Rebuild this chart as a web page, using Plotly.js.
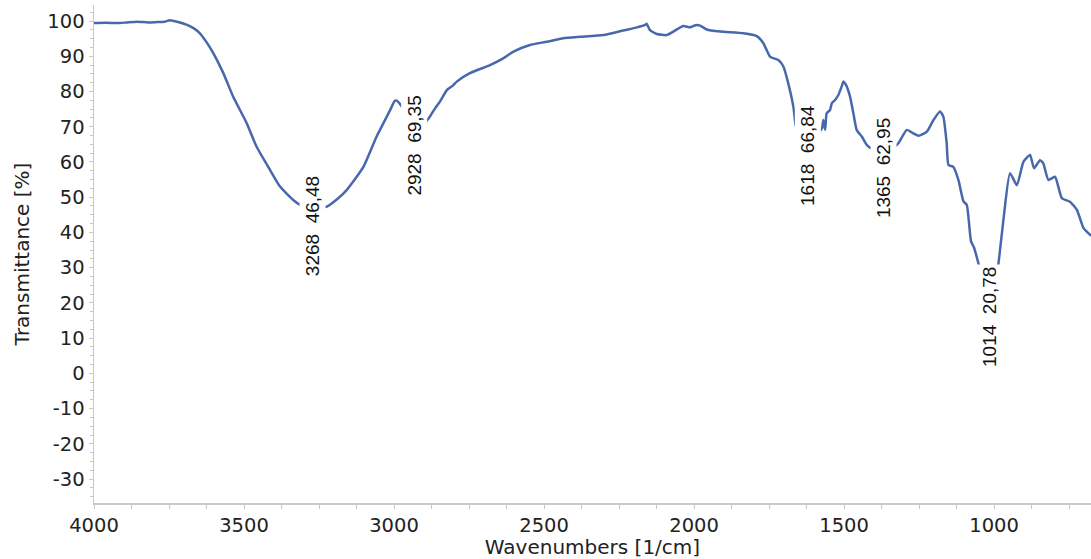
<!DOCTYPE html>
<html>
<head>
<meta charset="utf-8">
<script src="https://cdn.plot.ly/plotly-3.0.1.min.js"></script>
<style>html,body{margin:0;padding:0;background:#fff;}#chart{width:1091px;height:559px;}</style>
</head>
<body>
<div id="chart"></div>
<script>
// Spectrum (wavenumber in 1/cm, transmittance in %)
const wavenumbers = [4000, 3960, 3920, 3890, 3857, 3820, 3790, 3765, 3747, 3720, 3690, 3667, 3647, 3625, 3602, 3569, 3536, 3491, 3458, 3413, 3380, 3336, 3313, 3290, 3268, 3245, 3224, 3190, 3158, 3102, 3058, 3013, 2998, 2991, 2974, 2950, 2928, 2905, 2886, 2865, 2847, 2824, 2805, 2791, 2747, 2680, 2636, 2602, 2547, 2491, 2436, 2380, 2302, 2236, 2190, 2163, 2158, 2147, 2124, 2091, 2069, 2036, 2013, 1995, 1980, 1958, 1913, 1836, 1791, 1769, 1747, 1719, 1702, 1686, 1669, 1660, 1640, 1618, 1595, 1574, 1569, 1563, 1558, 1547, 1541, 1530, 1519, 1508, 1502, 1496, 1491, 1480, 1469, 1458, 1441, 1424, 1411, 1390, 1365, 1340, 1319, 1291, 1269, 1252, 1224, 1202, 1180, 1169, 1158, 1152, 1136, 1119, 1102, 1091, 1077, 1067, 1050, 1030, 1014, 1000, 986, 969, 947, 924, 902, 880, 867, 847, 836, 819, 797, 774, 747, 724, 702, 680, 677];
const transmittance = [99.4, 99.5, 99.4, 99.6, 99.8, 99.6, 99.7, 99.8, 100.2, 99.7, 98.9, 97.9, 96.5, 94.0, 90.8, 85.2, 78.5, 71.0, 64.3, 57.7, 53.0, 49.2, 47.8, 47.0, 46.48, 46.8, 47.3, 49.4, 52.0, 58.6, 67.2, 74.7, 77.3, 77.4, 75.7, 72.0, 69.35, 70.6, 72.2, 75.0, 77.1, 80.4, 81.6, 82.8, 85.2, 87.5, 89.4, 91.3, 93.2, 94.1, 95.1, 95.5, 96.0, 97.3, 98.2, 98.9, 99.2, 97.4, 96.3, 96.0, 97.0, 98.6, 98.2, 98.8, 98.7, 97.6, 97.0, 96.5, 95.7, 93.7, 89.9, 88.9, 87.0, 82.3, 75.7, 70.0, 67.5, 66.84, 67.8, 69.5, 71.9, 69.1, 73.8, 74.7, 76.6, 77.6, 79.0, 81.4, 82.8, 82.2, 81.4, 78.5, 73.8, 69.1, 67.2, 64.8, 63.9, 63.3, 62.95, 63.8, 65.3, 69.1, 68.1, 67.4, 68.6, 71.9, 74.3, 72.8, 65.3, 59.1, 58.6, 54.9, 48.8, 47.8, 37.5, 35.7, 30.5, 23.5, 20.78, 23.0, 30.7, 43.5, 56.8, 53.4, 60.1, 62.0, 58.2, 60.5, 59.6, 54.9, 55.8, 49.7, 48.7, 46.4, 41.2, 39.3, 39.0];

// Labelled peaks
const peakWavenumbers = [3268, 2928, 1618, 1365, 1014];
const peakTransmittance = [46.48, 69.35, 66.84, 62.95, 20.78];

// Axis ticks
const xTickValues = [4000, 3500, 3000, 2500, 2000, 1500, 1000];
const yTickValues = [100, 90, 80, 70, 60, 50, 40, 30, 20, 10, 0, -10, -20, -30];

const trace = {
  x: wavenumbers,
  y: transmittance,
  type: 'scatter',
  mode: 'lines',
  line: {color: '#4868ac', width: 2.5, shape: 'spline', smoothing: 0.5},
  hoverinfo: 'x+y'
};

const annotations = peakWavenumbers.map((w, i) => ({
  x: w,
  y: peakTransmittance[i],
  xref: 'x',
  yref: 'y',
  text: w + '\u00a0\u00a0' + String(peakTransmittance[i]).replace('.', ','),
  textangle: -90,
  showarrow: false,
  xanchor: 'center',
  yanchor: 'top',
  yshift: 36,
  xshift: -1,
  bgcolor: '#ffffff',
  borderpad: 2,
  font: {family: 'Liberation Sans, Arial, sans-serif', size: 19, color: '#111111'}
}));

const axisFont = {family: 'DejaVu Sans, Verdana, sans-serif', size: 20, color: '#222222'};
const tickFont = {family: 'DejaVu Sans, Verdana, sans-serif', size: 19.5, color: '#222222'};

const layout = {
  width: 1091,
  height: 559,
  margin: {l: 94, r: 0, t: 5, b: 56},
  paper_bgcolor: '#ffffff',
  plot_bgcolor: '#ffffff',
  showlegend: false,
  font: axisFont,
  xaxis: {
    range: [4000, 677],
    autorange: false,
    tickmode: 'array',
    tickvals: xTickValues,
    ticktext: xTickValues.map(String),
    ticks: 'outside',
    ticklen: 4,
    tickcolor: '#c8c8c8',
    tickwidth: 1,
    showline: true,
    linecolor: '#c8c8c8',
    linewidth: 1.5,
    showgrid: false,
    zeroline: false,
    tickfont: tickFont,
    minor: {dtick: 125, tick0: 0, ticks: 'outside', ticklen: 4, tickcolor: '#c8c8c8', showgrid: false},
    title: {text: 'Wavenumbers [1/cm]', font: axisFont, standoff: 7}
  },
  yaxis: {
    range: [-36.8, 104.54],
    autorange: false,
    tickmode: 'array',
    tickvals: yTickValues,
    ticktext: yTickValues.map(String),
    ticks: 'outside',
    ticklen: 4,
    tickcolor: '#c8c8c8',
    tickwidth: 1,
    showline: true,
    linecolor: '#c8c8c8',
    linewidth: 1.5,
    showgrid: false,
    zeroline: false,
    tickfont: tickFont,
    minor: {dtick: 2.5, tick0: 0, ticks: 'outside', ticklen: 3, tickcolor: '#c8c8c8', showgrid: false},
    title: {text: 'Transmittance [%]', font: axisFont, standoff: 12}
  },
  annotations: annotations
};

Plotly.newPlot('chart', [trace], layout, {displayModeBar: false, staticPlot: true});
</script>
</body>
</html>
